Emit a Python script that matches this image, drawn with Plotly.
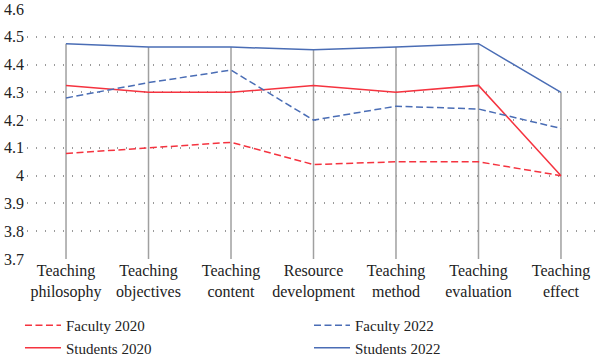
import plotly.graph_objects as go

categories = ["Teaching<br>philosophy", "Teaching<br>objectives", "Teaching<br>content",
              "Resource<br>development", "Teaching<br>method", "Teaching<br>evaluation", "Teaching<br>effect"]
faculty_2020 = [4.08, 4.10, 4.12, 4.04, 4.05, 4.05, 4.00]
faculty_2022 = [4.28, 4.335, 4.38, 4.20, 4.25, 4.24, 4.17]
students_2020 = [4.325, 4.30, 4.30, 4.325, 4.30, 4.325, 4.00]
students_2022 = [4.475, 4.463, 4.463, 4.453, 4.463, 4.475, 4.30]
y_min, y_max = 3.7, 4.6
y_ticks = [3.7, 3.8, 3.9, 4.0, 4.1, 4.2, 4.3, 4.4, 4.5, 4.6]
y_tick_text = ["3.7", "3.8", "3.9", "4", "4.1", "4.2", "4.3", "4.4", "4.5", "4.6"]

RED = "#f5333f"
BLUE = "#4a6db5"
FONT = "Liberation Serif"
DASH = "7px,3.5px"

fig = go.Figure()

# drop lines from top series to axis bottom
dx, dy = [], []
for c, a, b, s, t in zip(categories, faculty_2020, faculty_2022, students_2020, students_2022):
    dx += [c, c, None]
    dy += [y_min, max(a, b, s, t), None]
fig.add_trace(go.Scatter(x=dx, y=dy, mode="lines", line=dict(color="#a0a0a0", width=1.5),
                         showlegend=False, hoverinfo="skip"))

fig.add_trace(go.Scatter(x=categories, y=faculty_2020, mode="lines", name="Faculty 2020",
                         line=dict(color=RED, width=1.5, dash=DASH), legend="legend"))
fig.add_trace(go.Scatter(x=categories, y=students_2020, mode="lines", name="Students 2020",
                         line=dict(color=RED, width=1.5), legend="legend"))
fig.add_trace(go.Scatter(x=categories, y=faculty_2022, mode="lines", name="Faculty 2022",
                         line=dict(color=BLUE, width=1.5, dash=DASH), legend="legend2"))
fig.add_trace(go.Scatter(x=categories, y=students_2022, mode="lines", name="Students 2022",
                         line=dict(color=BLUE, width=1.5), legend="legend2"))

legend_common = dict(orientation="v", xanchor="left", xref="container",
                     y=0.137, yanchor="top", yref="container",
                     font=dict(family=FONT, size=15, color="#222222"),
                     tracegroupgap=0, itemwidth=36, bgcolor="rgba(0,0,0,0)")

fig.update_layout(
    width=600, height=358,
    margin=dict(l=27, r=0, t=9, b=99, autoexpand=False),
    paper_bgcolor="white", plot_bgcolor="white",
    font=dict(family=FONT, size=15, color="#222222"),
    showlegend=True,
    legend=dict(x=0.0333, **legend_common),
    legend2=dict(x=0.515, **legend_common),
    xaxis=dict(type="category", range=[-0.473, 6.473], showgrid=False, zeroline=False,
               showline=False, ticks="", automargin=False, tickfont=dict(family=FONT, size=16)),
    yaxis=dict(range=[y_min, y_max], tickvals=y_ticks, ticktext=y_tick_text,
               showgrid=True, gridcolor="#9a9a9a", griddash="1px,8px", gridwidth=1.5,
               zeroline=False, showline=False, ticks="", ticklabelstandoff=2, automargin=False,
               tickfont=dict(family=FONT, size=16)),
)

fig.write_html("out.html", config={"displayModeBar": False},
               post_script="document.body.style.margin='0';")
